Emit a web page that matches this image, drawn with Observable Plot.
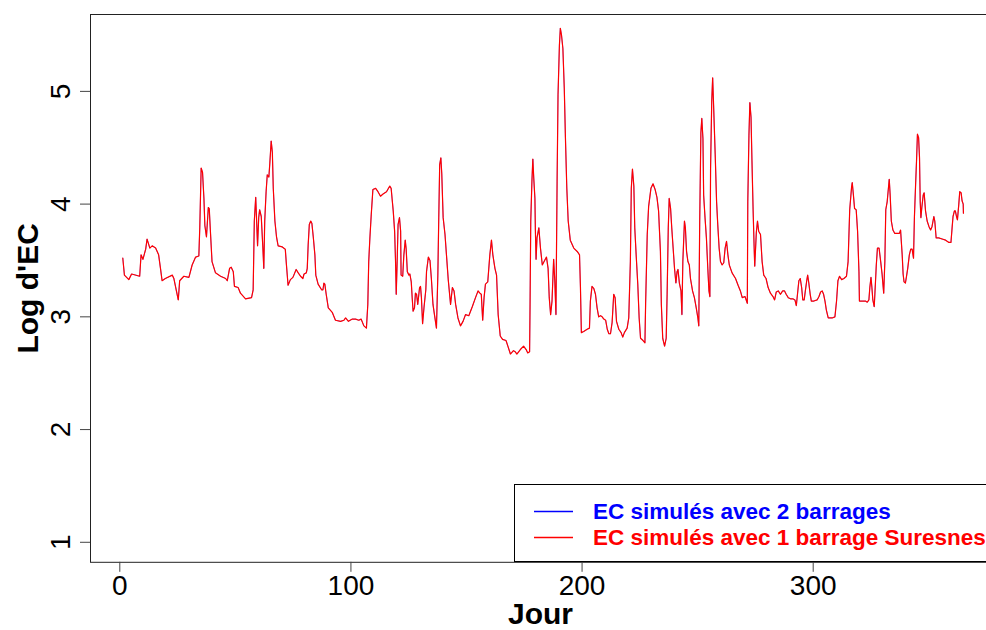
<!DOCTYPE html>
<html>
<head>
<meta charset="utf-8">
<script src="https://cdn.jsdelivr.net/npm/d3@7"></script>
<script src="https://cdn.jsdelivr.net/npm/@observablehq/plot@0.6"></script>
<style>
  html, body { margin: 0; padding: 0; overflow: hidden; background: #fff; }
  #wrap { position: relative; width: 986px; height: 630px; overflow: hidden; }
  #chart { position: absolute; left: 0; top: 0; width: 1000px; height: 630px; }
  #chart svg { max-width: none !important; width: 1000px !important; height: 630px !important; display: block; }
  #legend { position: absolute; left: 514px; top: 484px; width: 500px; height: 78px;
            border: 1px solid #000; box-sizing: border-box; background: #fff;
            font-family: "Liberation Sans", Arial, sans-serif; font-weight: bold; font-size: 22.5px; }
  .row { position: absolute; left: 0; height: 26px; line-height: 26px; white-space: nowrap; }
  .sw { position: absolute; left: 19px; top: 11px; width: 39px; height: 3px; }
  .lab { position: absolute; left: 78px; top: 0; }
</style>
</head>
<body>
<div id="wrap">
  <div id="chart"></div>
  <div id="legend">
    <div class="row" style="top:14px"><svg class="sw" width="39" height="3"><line x1="0" x2="39" y1="1.5" y2="1.5" style="stroke:#0000FF;stroke-width:1.6px"/></svg><span class="lab" style="color:#0000FF">EC simulés avec 2 barrages</span></div>
    <div class="row" style="top:40px"><svg class="sw" width="39" height="3"><line x1="0" x2="39" y1="1.5" y2="1.5" style="stroke:#FF0000;stroke-width:1.6px"/></svg><span class="lab" style="color:#FF0000">EC simulés avec 1 barrage Suresnes</span></div>
  </div>
</div>
<script>
// Jour (x) and Log d'EC values
const jours = [
1.3,2.0,3.9,5.1,8.6,9.2,10.0,11.2,11.8,13.0,14.0,15.5,16.8,17.6,18.3,19.7,22.7,23.4,24.8,25.3,25.9,27.7,29.9,31.3,32.8,34.2,34.6,35.2,35.8,36.4,36.8,37.5,38.3,38.7,39.2,39.9,41.4,43.6,45.8,46.5,47.5,48.2,49.1,49.6,51.2,52.2,
54.4,57.0,57.7,58.2,58.8,59.2,59.6,60.1,60.5,61.2,61.9,62.3,62.7,63.3,63.8,64.5,64.9,65.5,66.0,66.4,67.1,67.8,68.5,70.3,71.6,72.1,72.8,73.8,74.9,76.3,77.2,78.2,79.2,79.7,80.7,81.1,81.5,82.0,82.6,83.1,83.7,84.4,84.8,85.8,87.3,87.9,88.3,88.7,89.3,90.2,91.9,93.3,95.5,97.0,97.7,98.9,100.6,102.0,103.4,104.4,105.6,
106.7,107.3,107.7,108.2,108.8,109.5,110.7,111.7,112.8,113.9,115.4,116.8,117.4,117.8,118.3,118.9,119.3,119.6,120.0,120.4,121.0,121.5,121.7,122.4,122.9,123.5,123.9,124.4,125.1,125.5,126.1,126.5,126.9,127.5,127.9,128.4,128.9,129.7,130.1,130.5,131.0,131.6,132.4,132.7,133.5,134.2,134.8,135.5,136.2,137.0,137.6,138.0,138.4,138.9,139.3,139.9,140.7,141.4,142.1,143.1,143.9,144.6,145.3,146.3,147.4,148.5,149.6,151.0,152.5,153.9,155.0,155.8,156.4,157.0,157.6,158.2,159.2,
160.1,160.8,161.4,162.3,163.0,163.7,164.6,165.6,167.1,167.9,169.0,170.3,171.1,171.8,173.3,174.7,175.8,176.5,177.3,177.5,177.8,178.3,178.7,179.1,179.6,179.8,180.1,180.5,181.3,182.0,182.8,183.8,184.6,185.3,185.8,186.4,187.0,187.7,188.2,188.7,189.2,189.6,190.2,190.6,191.1,191.7,192.3,192.8,193.4,194.0,194.9,196.4,197.9,198.9,199.3,199.7,200.7,202.2,203.2,203.6,204.3,205.1,205.8,206.5,207.2,208.0,208.7,209.4,210.2,210.9,211.6,212.3,
213.0,213.7,214.3,214.9,215.9,216.9,217.6,218.3,219.5,220.2,220.9,221.3,221.8,222.4,222.8,223.4,224.1,224.7,225.3,226.4,227.2,227.5,228.2,228.8,229.8,230.7,231.6,232.4,233.1,233.9,234.3,234.9,235.7,236.4,236.8,237.3,237.7,238.3,238.8,239.4,240.0,240.6,241.1,241.5,242.1,242.8,243.2,243.6,244.3,244.7,245.2,245.8,246.4,246.9,247.8,248.6,249.4,250.1,250.5,250.9,251.4,251.8,252.3,252.6,253.2,253.8,254.4,254.9,255.3,255.6,256.1,256.5,256.9,257.6,258.2,258.7,259.3,259.9,260.6,261.3,261.9,262.5,263.1,263.7,264.9,266.4,267.5,268.5,
269.3,270.5,271.5,271.7,272.2,272.6,273.1,273.5,274.0,274.4,274.7,275.1,275.4,275.9,276.4,277.2,277.9,278.6,279.6,280.5,281.5,282.6,283.3,284.0,284.9,285.8,286.8,287.6,288.3,289.2,290.2,291.2,292.1,292.7,293.2,293.8,294.4,295.0,295.5,296.1,296.6,297.2,297.6,298.1,298.7,299.2,300.3,301.7,302.5,303.2,303.9,304.5,305.1,305.7,306.5,308.2,309.4,310.1,310.7,311.4,312.3,313.3,314.4,315.1,315.8,316.6,316.9,317.4,317.9,318.6,319.2,319.8,
320.0,321.2,322.6,323.4,324.1,324.5,325.0,325.4,325.8,326.4,326.9,327.3,327.8,328.5,329.2,329.8,330.5,331.0,331.4,332.0,332.4,332.9,333.3,333.8,334.5,335.3,336.3,337.3,337.8,338.5,338.9,339.3,339.9,340.3,340.9,341.6,342.2,342.8,343.4,343.8,344.3,344.7,345.1,345.6,346.0,346.3,346.6,347.0,347.6,348.0,348.6,349.3,350.1,350.8,351.4,352.2,352.6,353.2,354.3,355.8,357.3,358.7,359.6,360.1,360.5,361.1,361.5,362.0,362.4,363.0,363.4,364.0,364.4,364.9,365.0
];
const ecUnBarrage = [
3.52,3.37,3.33,3.38,3.36,3.55,3.51,3.60,3.69,3.61,3.63,3.61,3.55,3.43,3.32,3.34,3.37,3.34,3.20,3.15,3.32,3.36,3.35,3.46,3.53,3.54,3.79,4.32,4.28,4.05,3.81,3.71,3.97,3.96,3.76,3.49,3.39,3.36,3.34,3.32,3.43,3.44,3.40,3.27,3.26,3.21,
3.16,3.17,3.24,3.85,4.06,3.85,3.63,3.88,3.95,3.89,3.61,3.43,3.85,4.11,4.26,4.24,4.36,4.56,4.46,4.14,3.85,3.71,3.63,3.62,3.60,3.46,3.28,3.33,3.35,3.42,3.39,3.36,3.34,3.38,3.39,3.43,3.64,3.82,3.85,3.83,3.71,3.55,3.37,3.29,3.24,3.24,3.30,3.29,3.20,3.08,3.04,2.97,2.96,2.97,2.99,2.96,2.98,2.98,2.97,2.98,2.92,
2.90,3.11,3.49,3.70,3.91,4.13,4.14,4.11,4.07,4.09,4.11,4.16,4.14,4.05,3.94,3.76,3.49,3.20,3.49,3.82,3.88,3.76,3.37,3.36,3.55,3.68,3.60,3.40,3.37,3.38,3.31,3.17,3.05,3.08,3.21,3.20,3.11,3.26,3.27,3.17,2.94,3.08,3.24,3.40,3.53,3.50,3.34,3.11,3.01,2.90,3.37,3.88,4.35,4.41,4.27,3.88,3.73,3.53,3.33,3.11,3.26,3.23,3.11,2.99,2.92,2.96,3.02,3.01,3.09,3.17,3.23,3.21,3.20,2.97,3.17,3.29,3.31,
3.55,3.68,3.55,3.43,3.37,3.02,2.83,2.80,2.79,2.74,2.67,2.70,2.69,2.67,2.71,2.74,2.71,2.68,2.69,3.11,3.85,4.20,4.40,4.23,4.05,3.77,3.51,3.70,3.79,3.61,3.46,3.50,3.53,3.43,3.17,3.02,3.14,3.51,3.32,3.02,4.20,4.97,5.41,5.56,5.50,5.38,5.03,4.59,4.14,3.85,3.68,3.61,3.58,3.55,3.26,2.86,2.87,2.89,2.90,3.14,3.27,3.25,3.20,3.08,3.00,3.01,3.00,2.98,2.97,2.89,2.85,2.85,
2.95,3.20,3.17,2.96,2.89,2.86,2.82,2.86,2.90,2.99,3.49,4.14,4.31,4.16,3.79,3.55,3.29,2.99,2.81,2.79,2.77,3.12,3.73,3.98,4.14,4.18,4.13,4.06,3.94,3.58,3.11,2.81,2.74,2.81,3.20,3.79,4.05,3.96,3.79,3.61,3.43,3.30,3.40,3.42,3.30,3.23,3.02,3.49,3.85,3.79,3.58,3.49,3.46,3.34,3.23,3.17,3.08,2.99,2.92,3.85,4.63,4.76,4.58,4.08,3.88,3.70,3.43,3.23,3.18,4.32,4.91,5.12,4.88,4.44,4.02,3.82,3.61,3.49,3.46,3.48,3.61,3.67,3.55,3.46,3.39,3.34,3.28,3.23,
3.17,3.18,3.12,4.02,4.61,4.90,4.77,4.39,3.95,3.65,3.45,3.62,3.75,3.85,3.76,3.73,3.49,3.37,3.34,3.26,3.21,3.18,3.15,3.22,3.23,3.20,3.23,3.23,3.20,3.17,3.16,3.16,3.15,3.10,3.20,3.32,3.34,3.26,3.15,3.15,3.23,3.32,3.37,3.30,3.20,3.14,3.14,3.15,3.18,3.22,3.23,3.20,3.14,3.06,2.99,2.99,3.00,3.14,3.32,3.36,3.33,3.34,3.36,3.49,3.95,4.15,4.19,4.08,3.96,3.95,3.76,3.40,
3.14,3.14,3.14,3.13,3.15,3.26,3.35,3.26,3.15,3.09,3.29,3.46,3.61,3.61,3.49,3.38,3.21,3.49,3.95,4.02,4.11,4.22,4.08,3.85,3.77,3.74,3.74,3.74,3.77,3.55,3.38,3.31,3.30,3.35,3.43,3.55,3.60,3.60,3.52,3.89,4.17,4.38,4.62,4.59,4.41,4.02,3.88,3.97,4.08,4.10,3.94,3.85,3.80,3.77,3.80,3.89,3.85,3.70,3.70,3.69,3.68,3.66,3.66,3.79,3.89,3.94,3.94,3.89,3.86,4.00,4.11,4.10,4.03,4.00,3.92
];
// The two simulations coincide in the picture (blue hidden under red)
const ecDeuxBarrages = ecUnBarrage.slice();

const xTicks = [0, 100, 200, 300];
const yTicks = [1, 2, 3, 4, 5];

const rows = jours.map((j, i) => ({jour: j, deux: ecDeuxBarrages[i], un: ecUnBarrage[i]}));

const font = '"Liberation Sans", Arial, sans-serif';

const chart = Plot.plot({
  width: 1000,
  height: 630,
  marginLeft: 90,
  marginRight: 10,
  marginTop: 14,
  marginBottom: 68.2,
  style: {fontFamily: font, background: "transparent", color: "#000", maxWidth: "none"},
  x: {domain: [-12.677, 376.71]},
  y: {domain: [0.8225, 5.682]},
  marks: [
    Plot.frame({stroke: "#222", strokeWidth: 1}),
    Plot.axisX({ticks: xTicks, tickSize: 10, tickPadding: 3, fontSize: 28, label: null, stroke: "#444", fill: "#000"}),
    Plot.axisY({ticks: yTicks, tickSize: 10, tickFormat: () => "", label: null, stroke: "#444"}),
    Plot.text(yTicks, {y: d => d, text: d => String(d), frameAnchor: "left", rotate: -90, dx: -29, textAnchor: "middle", lineAnchor: "middle", fontSize: 28, fill: "#000"}),
    Plot.line(rows, {x: "jour", y: "deux", stroke: "#0000FF", strokeWidth: 0.5}),
    Plot.line(rows, {x: "jour", y: "un", stroke: "#FF0000", strokeWidth: 1.2}),
    Plot.text(["Jour"], {text: d => d, frameAnchor: "bottom", lineAnchor: "top", dy: 40, fontSize: 30, fontWeight: "bold", fill: "#000"}),
    Plot.text(["Log d'EC"], {text: d => d, frameAnchor: "left", rotate: -90, dx: -62, textAnchor: "middle", lineAnchor: "middle", fontSize: 30, fontWeight: "bold", fill: "#000"})
  ]
});
document.getElementById("chart").appendChild(chart);
</script>
</body>
</html>
